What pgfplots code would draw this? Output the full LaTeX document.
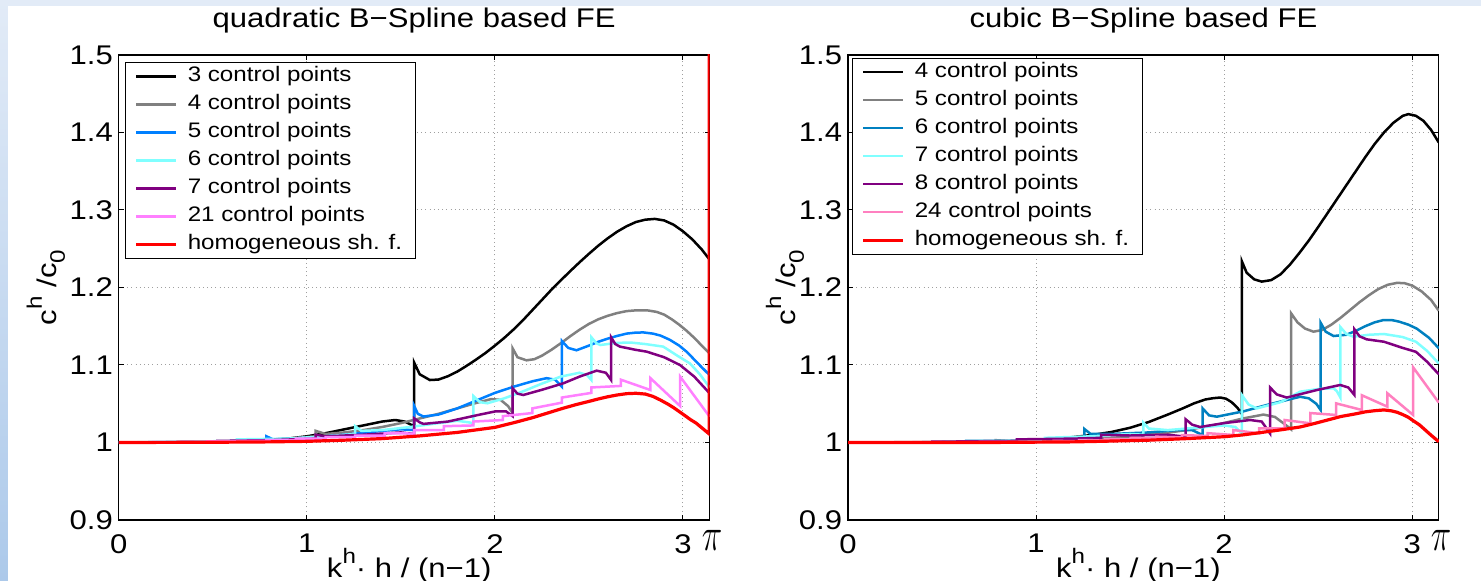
\documentclass[border=0pt]{standalone}
\usepackage{fontspec}
\setmainfont{Liberation Sans}[FakeStretch=1.15]
\usepackage{pgfplots}
\pgfplotsset{compat=1.18}

\definecolor{cgray}{RGB}{128,128,128}
\definecolor{cblueL}{RGB}{0,128,255}
\definecolor{ccyan}{RGB}{128,255,255}
\definecolor{cpurple}{RGB}{128,0,128}
\definecolor{cpinkL}{RGB}{255,128,255}
\definecolor{cblueR}{RGB}{0,128,192}
\definecolor{cpinkR}{RGB}{255,128,192}
\definecolor{bgtop}{RGB}{226,235,247}
\definecolor{bgbot}{RGB}{172,201,234}

\newcommand\tickf{\fontsize{13.5}{16}\selectfont}
\newcommand\legf{\fontsize{10.5}{12.6}\selectfont}
\newcommand\Sup[1]{\raisebox{0.55em}{\fontsize{10.5}{10.5}\selectfont #1}}
\newcommand\Sub[1]{\raisebox{-0.3em}{\fontsize{10.5}{10.5}\selectfont #1}}
\newcommand\pilabel{\scalebox{1}[1.35]{\fontsize{17}{17}\selectfont$\pi$}}

\pgfplotsset{
  bsp/.style={
    scale only axis, width=295.4pt, height=232.5pt,
    xmin=0, xmax=3.1416, ymin=0.9, ymax=1.5,
    xtick={0,1,2,3}, xticklabels={0,1,2,3},
    ytick={0.9,1,1.1,1.2,1.3,1.4,1.5},
    yticklabels={0.9,1,1.1,1.2,1.3,1.4,1.5},
    extra x ticks={3.1416}, extra x tick labels={\pilabel},
    extra x tick style={grid=none, major tick length=0pt,
      xticklabel style={yshift=2pt, xshift=1.2pt}},
    tick align=inside, major tick length=2.5pt,
    tick style={black, line width=0.5pt},
    grid=major,
    major grid style={gray!75, line width=0.5pt, dash pattern=on 0.5pt off 1.6pt},
    axis line style={black, line width=0.6pt},
    tick label style={font=\tickf},
    xticklabel style={anchor=north, inner sep=0pt, yshift=-7pt},
    yticklabel style={anchor=east, inner sep=0pt, xshift=-2.75pt},
    title style={font=\tickf, anchor=base, at={(rel axis cs:0.5,1)},
      yshift=7.85pt, inner sep=0pt},
    xlabel style={font=\tickf, at={(rel axis cs:0.5,0)}, anchor=base,
      yshift=-29pt, xshift=-2.5pt, inner sep=0pt},
    xlabel={k\Sup{h}· h / (n−1)},
    ylabel={c\Sup{h} /c\Sub{0}},
    legend cell align=left,
    legend style={anchor=north west, draw=black, line width=0.6pt,
      fill=white, font=\legf, inner xsep=4.5pt, inner ysep=0pt,
      row sep=0pt, column sep=3pt,
      nodes={inner xsep=2pt, inner ysep=2pt, text height=7.6pt, text depth=2.4pt}},
    legend image code/.code={\draw[#1] (0pt,0pt) -- (20pt,0pt);},
    every axis plot/.append style={line width=1.25pt},
  }
}

\begin{document}
\begin{tikzpicture}
\useasboundingbox (0,0) rectangle (740.5pt,290.5pt);
\fill[bgtop] (0,0) rectangle (740.5pt,290.5pt);
\shade[top color=bgtop, bottom color=bgbot] (0,0) rectangle (4pt,290.5pt);
\fill[white] (4pt,0) rectangle (740.5pt,287.5pt);

% quadratic
\begin{axis}[bsp, at={(59.4pt,30.5pt)},
  title={quadratic B−Spline based FE},
  ylabel style={at={([xshift=-36.5pt]rel axis cs:0,0.5)}, anchor=center, font=\tickf, inner sep=0pt},
  legend style={at={([xshift=3.1pt,yshift=-3.5pt]rel axis cs:0,1)}}]
\addplot[black] coordinates {
 (0,1) (0.4,1.0005) (0.7,1.002) (0.9,1.005) (1.0,1.008) (1.1,1.012) (1.2,1.017)
 (1.3,1.022) (1.4,1.027) (1.47,1.029) (1.52,1.027) (1.5708,1.021) (1.5708,1.103)
 (1.6,1.088) (1.654,1.0806) (1.70,1.0812) (1.75,1.0855) (1.80,1.0915) (1.85,1.099)
 (1.90,1.107) (1.95,1.1155) (2.00,1.125) (2.05,1.135) (2.10,1.146) (2.15,1.158)
 (2.20,1.171) (2.25,1.184) (2.30,1.197) (2.36,1.2115) (2.40,1.221) (2.45,1.2325)
 (2.50,1.2435) (2.55,1.254) (2.60,1.2635) (2.65,1.272) (2.70,1.279) (2.75,1.2845)
 (2.80,1.2875) (2.85,1.2885) (2.90,1.2865) (2.95,1.281) (3.00,1.2725) (3.05,1.262)
 (3.10,1.249) (3.1416,1.236)};
\addlegendentry{3 control points}
\addplot[cgray] coordinates {
 (0,1) (0.5,1.0005) (0.8,1.003) (1.0,1.007) (1.047,1.008) (1.047,1.015) (1.1,1.011)
 (1.2,1.013) (1.3,1.016) (1.4,1.02) (1.5,1.025) (1.6,1.031) (1.7,1.037) (1.8,1.044)
 (1.9,1.051) (1.98,1.056) (2.03,1.055) (2.07,1.047) (2.094,1.038) (2.094,1.1215)
 (2.12,1.11) (2.168,1.106) (2.21,1.1075) (2.25,1.112) (2.30,1.1195) (2.35,1.128)
 (2.40,1.137) (2.45,1.1455) (2.50,1.153) (2.55,1.159) (2.60,1.1635) (2.65,1.167)
 (2.70,1.1695) (2.75,1.1705) (2.81,1.1705) (2.86,1.1685) (2.9,1.165) (2.94,1.159)
 (2.98,1.152) (3.02,1.144) (3.06,1.135) (3.1,1.125) (3.1416,1.115)};
\addlegendentry{4 control points}
\addplot[cblueL] coordinates {
 (0,1) (0.5,1.001) (0.785,1.003) (0.785,1.008) (0.82,1.004) (1.0,1.006) (1.2,1.010)
 (1.4,1.015) (1.5,1.017) (1.571,1.016) (1.571,1.047) (1.59,1.037) (1.62,1.0335)
 (1.7,1.036) (1.8,1.044) (1.92,1.056) (2.0,1.064) (2.1,1.072) (2.2,1.079)
 (2.275,1.083) (2.32,1.081) (2.356,1.072) (2.356,1.131) (2.39,1.122) (2.434,1.119)
 (2.5,1.125) (2.55,1.13) (2.6,1.134) (2.65,1.1375) (2.7,1.1405) (2.75,1.1418)
 (2.79,1.142) (2.84,1.1405) (2.88,1.138) (2.93,1.1325) (2.98,1.125) (3.02,1.117)
 (3.06,1.107) (3.1,1.097) (3.1416,1.087)};
\addlegendentry{5 control points}
\addplot[ccyan] coordinates {
 (0,1) (0.628,1.002) (0.628,1.004) (0.9,1.005) (1.1,1.008) (1.257,1.011) (1.257,1.021)
 (1.29,1.015) (1.4,1.016) (1.55,1.02) (1.7,1.025) (1.8,1.028) (1.86,1.026)
 (1.885,1.0248) (1.885,1.06) (1.92,1.052) (1.96,1.0506) (2.05,1.057) (2.15,1.066)
 (2.25,1.076) (2.35,1.085) (2.45,1.09) (2.49,1.087) (2.513,1.0806) (2.513,1.1357)
 (2.54,1.128) (2.56,1.1258) (2.65,1.1285) (2.72,1.129) (2.8,1.127) (2.895,1.1237)
 (2.97,1.112) (3.037,1.102) (3.09,1.088) (3.1416,1.071)};
\addlegendentry{6 control points}
\addplot[cpurple] coordinates {
 (0,1) (0.524,1.0005) (0.524,1.002) (0.8,1.003) (1.047,1.005) (1.047,1.01) (1.1,1.008)
 (1.3,1.010) (1.5,1.013) (1.571,1.011) (1.571,1.031) (1.6,1.026) (1.62,1.024)
 (1.75,1.027) (1.92,1.036) (2.0,1.040) (2.06,1.040) (2.094,1.034) (2.094,1.070)
 (2.12,1.063) (2.151,1.0613) (2.25,1.068) (2.364,1.0764) (2.45,1.085) (2.541,1.0927)
 (2.59,1.09) (2.618,1.0806) (2.618,1.1357) (2.64,1.127) (2.665,1.1237) (2.75,1.1195)
 (2.807,1.1172) (2.9,1.11) (2.984,1.10) (3.06,1.085) (3.1416,1.0635)};
\addlegendentry{7 control points}
\addplot[cpinkL] coordinates {
 (0,1) (0.157,1.0) (0.157,1.0003) (0.314,1.0004) (0.314,1.0008) (0.471,1.0009)
 (0.471,1.0013) (0.628,1.0015) (0.628,1.002) (0.785,1.002) (0.785,1.003)
 (0.942,1.0032) (0.942,1.005) (1.100,1.005) (1.100,1.007) (1.257,1.0068)
 (1.257,1.009) (1.414,1.009) (1.414,1.012) (1.571,1.0115) (1.571,1.016)
 (1.728,1.016) (1.728,1.021) (1.885,1.022) (1.885,1.027) (2.042,1.029)
 (2.042,1.034) (2.199,1.038) (2.199,1.044) (2.356,1.0514) (2.356,1.058)
 (2.513,1.064) (2.513,1.071) (2.670,1.073) (2.670,1.081) (2.827,1.0677)
 (2.827,1.083) (2.985,1.047) (2.985,1.085) (3.1416,1.0333)};
\addlegendentry{21 control points}
\addplot[red, line width=1.6pt] coordinates {
 (0,1) (0.5,1.0003) (0.8,1.0008) (1.0,1.0015) (1.2,1.003) (1.4,1.005) (1.6,1.0085)
 (1.8,1.013) (2.0,1.0195) (2.1,1.0255) (2.2,1.032) (2.28,1.038) (2.36,1.044)
 (2.43,1.0488) (2.5,1.053) (2.55,1.0562) (2.6,1.059) (2.65,1.0613) (2.7,1.063)
 (2.75,1.0635) (2.8,1.0625) (2.84,1.0595) (2.88,1.0548) (2.92,1.0495) (2.95,1.045)
 (3.0,1.0365) (3.04,1.0295) (3.07,1.025) (3.1,1.019) (3.1395,1.011) (3.1395,1.6)};
\addlegendentry{homogeneous sh. f.}
\end{axis}

% cubic
\begin{axis}[bsp, at={(424pt,30.5pt)},
  title={cubic B−Spline based FE},
  ylabel style={at={([xshift=-31.5pt]rel axis cs:0,0.5)}, anchor=center, font=\tickf, inner sep=0pt},
  legend style={at={([xshift=2pt,yshift=-1.3pt]rel axis cs:0,1)}}]
\addplot[black] coordinates {
 (0,1) (0.5,1.0002) (0.8,1.001) (1.0,1.003) (1.1,1.0045) (1.2,1.007) (1.3,1.0098)
 (1.4,1.0135) (1.5,1.019) (1.6,1.0265) (1.7,1.036) (1.78,1.044) (1.84,1.0505)
 (1.9,1.0555) (1.943,1.0572) (1.98,1.058) (2.01,1.0565) (2.04,1.052) (2.07,1.045)
 (2.094,1.037) (2.094,1.234) (2.12,1.219) (2.16,1.2105) (2.2,1.2076) (2.25,1.2095)
 (2.3,1.217) (2.35,1.2295) (2.4,1.2445) (2.45,1.2605) (2.5,1.278) (2.55,1.296)
 (2.6,1.314) (2.65,1.332) (2.7,1.35) (2.75,1.368) (2.8,1.385) (2.85,1.4)
 (2.9,1.4125) (2.95,1.4215) (2.98,1.4237) (3.02,1.4215) (3.06,1.415) (3.1,1.4035)
 (3.1416,1.387)};
\addlegendentry{4 control points}
\addplot[cgray] coordinates {
 (0,1) (0.785,1.001) (0.785,1.003) (0.85,1.002) (1.2,1.004) (1.571,1.008)
 (1.571,1.011) (1.65,1.011) (1.8,1.016) (1.98,1.024) (2.1,1.031) (2.209,1.036)
 (2.27,1.033) (2.32,1.024) (2.356,1.017) (2.356,1.1667) (2.39,1.155) (2.43,1.147)
 (2.475,1.143) (2.52,1.145) (2.57,1.152) (2.62,1.161) (2.67,1.171) (2.72,1.181)
 (2.77,1.19) (2.82,1.198) (2.87,1.2035) (2.92,1.206) (2.96,1.2055) (3.0,1.2025)
 (3.05,1.195) (3.1,1.184) (3.1416,1.17)};
\addlegendentry{5 control points}
\addplot[cblueR] coordinates {
 (0,1) (0.628,1.0005) (0.628,1.002) (0.9,1.002) (1.257,1.005) (1.257,1.0174)
 (1.29,1.011) (1.4,1.011) (1.6,1.013) (1.75,1.016) (1.83,1.016) (1.885,1.0097)
 (1.885,1.0441) (1.92,1.035) (1.961,1.0333) (2.1,1.040) (2.227,1.0484) (2.32,1.054)
 (2.404,1.059) (2.45,1.057) (2.49,1.05) (2.513,1.042) (2.513,1.1546) (2.54,1.143)
 (2.582,1.1374) (2.65,1.139) (2.7,1.144) (2.75,1.15) (2.8,1.155) (2.847,1.158)
 (2.89,1.158) (2.93,1.156) (2.98,1.152) (3.024,1.147) (3.09,1.135) (3.1416,1.1216)};
\addlegendentry{6 control points}
\addplot[ccyan] coordinates {
 (0,1) (0.524,1.0003) (0.524,1.001) (1.047,1.003) (1.047,1.006) (1.3,1.008)
 (1.5,1.011) (1.571,1.010) (1.571,1.0256) (1.6,1.018) (1.7,1.016) (1.85,1.019)
 (2.0,1.022) (2.06,1.020) (2.094,1.0118) (2.094,1.0613) (2.13,1.049) (2.174,1.044)
 (2.3,1.052) (2.404,1.0656) (2.5,1.069) (2.582,1.07) (2.6,1.066) (2.618,1.0581)
 (2.618,1.149) (2.65,1.14) (2.688,1.1365) (2.77,1.139) (2.85,1.14) (2.95,1.136)
 (3.02,1.130) (3.08,1.118) (3.1416,1.102)};
\addlegendentry{7 control points}
\addplot[cpurple] coordinates {
 (0,1) (0.449,1.0002) (0.449,1.001) (0.898,1.002) (0.898,1.004) (1.2,1.005)
 (1.346,1.006) (1.346,1.010) (1.5,1.009) (1.7,1.010) (1.795,1.0075) (1.795,1.030)
 (1.83,1.023) (1.872,1.020) (2.0,1.025) (2.138,1.029) (2.2,1.027) (2.244,1.0118)
 (2.244,1.071) (2.28,1.062) (2.333,1.058) (2.493,1.0677) (2.617,1.0742) (2.66,1.071)
 (2.693,1.0613) (2.693,1.146) (2.72,1.137) (2.758,1.1331) (2.85,1.130) (2.95,1.122)
 (3.02,1.117) (3.08,1.104) (3.1416,1.088)};
\addlegendentry{8 control points}
\addplot[cpinkR] coordinates {
 (0,1) (1.0927,1.001) (1.0927,1.002) (1.2293,1.0018) (1.2293,1.003) (1.3659,1.0028)
 (1.3659,1.0045) (1.5025,1.004) (1.5025,1.006) (1.6391,1.0055) (1.6391,1.0075)
 (1.7757,1.0065) (1.7757,1.0095) (1.9123,1.0085) (1.9123,1.012) (2.0489,1.0097)
 (2.0489,1.0161) (2.1855,1.0118) (2.1855,1.0183) (2.3220,1.0183) (2.3220,1.029)
 (2.4586,1.0247) (2.4586,1.038) (2.5952,1.0355) (2.5952,1.0505) (2.7318,1.042)
 (2.7318,1.061) (2.8684,1.0462) (2.8684,1.0634) (3.0050,1.0355) (3.0050,1.097)
 (3.1416,1.0514)};
\addlegendentry{24 control points}
\addplot[red, line width=1.6pt] coordinates {
 (0,1) (0.8,1.0001) (1.2,1.0008) (1.34,1.0015) (1.6,1.003) (1.8,1.005) (2.005,1.0075)
 (2.1,1.0098) (2.2,1.013) (2.3,1.0163) (2.404,1.020) (2.48,1.0245) (2.55,1.029)
 (2.62,1.0335) (2.7,1.037) (2.75,1.0395) (2.8,1.041) (2.85,1.042) (2.89,1.0408)
 (2.92,1.039) (2.95,1.036) (2.98,1.0325) (3.0,1.029) (3.04,1.0225) (3.07,1.016)
 (3.1,1.0095) (3.1416,1.001)};
\addlegendentry{homogeneous sh. f.}
\end{axis}
\end{tikzpicture}
\end{document}
